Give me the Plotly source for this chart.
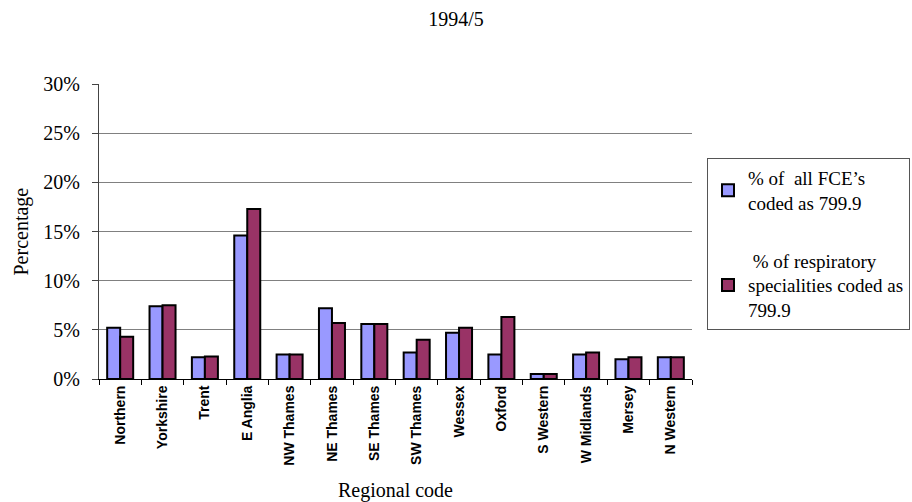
import plotly.graph_objects as go

# Regional share of finished consultant episodes coded 799.9, 1994/5
regions = ["Northern", "Yorkshire", "Trent", "E Anglia", "NW Thames", "NE Thames",
           "SE Thames", "SW Thames", "Wessex", "Oxford", "S Western", "W Midlands",
           "Mersey", "N Western"]
all_fce_pct = [5.2, 7.4, 2.2, 14.6, 2.5, 7.2, 5.6, 2.7, 4.7, 2.5, 0.5, 2.5, 2.0, 2.2]
respiratory_pct = [4.3, 7.5, 2.3, 17.3, 2.5, 5.7, 5.6, 4.0, 5.2, 6.3, 0.5, 2.7, 2.2, 2.2]
y_ticks = [0, 5, 10, 15, 20, 25, 30]
y_tick_labels = ["0%", "5%", "10%", "15%", "20%", "25%", "30%"]

serif = "Liberation Serif, Times New Roman, serif"
sans = "Liberation Sans, Arial, sans-serif"

fig = go.Figure()
fig.add_trace(go.Bar(
    x=regions, y=all_fce_pct,
    name="% of  all FCE\u2019s<br>coded as 799.9",
    marker=dict(color="#9999FF", line=dict(color="black", width=2)),
    legendgroup="a",
))
fig.add_trace(go.Bar(
    x=regions, y=respiratory_pct,
    name=" % of respiratory<br>specialities coded as<br>799.9",
    marker=dict(color="#993366", line=dict(color="black", width=2)),
    legendgroup="b",
))

fig.update_layout(
    width=912, height=502,
    margin=dict(l=99, r=220, t=84, b=123, autoexpand=False),
    paper_bgcolor="white", plot_bgcolor="white",
    barmode="group", bargap=0.386, bargroupgap=0,
    title=dict(text="1994/5", x=0.5, xref="container", xanchor="center",
               y=1 - 19 / 502, yref="container", yanchor="middle",
               font=dict(family=serif, size=20, color="black")),
    legend=dict(
        x=(707 - 99) / 593, y=(379 - 158) / 295, xanchor="left", yanchor="top",
        bgcolor="white", bordercolor="#555555", borderwidth=1,
        font=dict(family=serif, size=19, color="black"),
        tracegroupgap=30, itemsizing="constant",
    ),
    font=dict(family=serif, color="black"),
)

fig.update_xaxes(
    type="category", tickangle=-90, tickson="boundaries",
    ticks="outside", ticklen=5, tickcolor="black",
    showline=True, linecolor="black", linewidth=1,
    tickfont=dict(family=sans, size=14, color="black", weight="bold"),
    showgrid=False,
)
fig.update_yaxes(
    range=[0, 30], tickmode="array", tickvals=y_ticks, ticktext=y_tick_labels,
    ticks="outside", ticklen=6, tickcolor="#444444",
    showline=True, linecolor="#444444", linewidth=1,
    showgrid=True, gridcolor="#808080", gridwidth=1,
    tickfont=dict(family=serif, size=20, color="black"),
    ticklabelstandoff=8, zeroline=False,
)

fig.add_annotation(text="Regional code", x=0.5, y=(379 - 490) / 295,
                   xref="paper", yref="paper", showarrow=False,
                   xanchor="center", yanchor="middle",
                   font=dict(family=serif, size=20, color="black"))
fig.add_annotation(text="Percentage", x=-78 / 593, y=0.5, textangle=-90,
                   xref="paper", yref="paper", showarrow=False,
                   xanchor="center", yanchor="middle",
                   font=dict(family=serif, size=20, color="black"))

fig.write_html("out.html")
